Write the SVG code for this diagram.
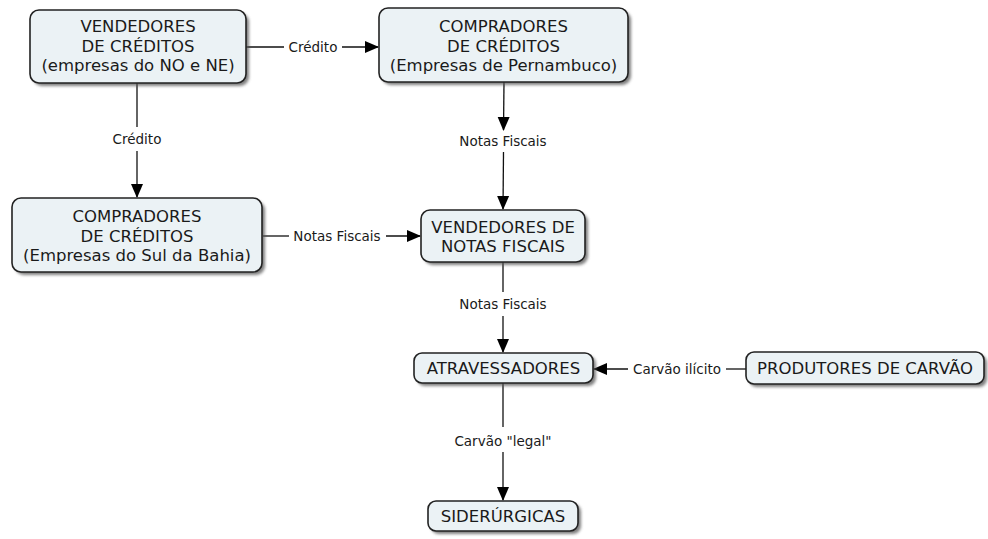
<svg xmlns="http://www.w3.org/2000/svg" width="988" height="539" viewBox="0 0 988 539">
<style>
.box{fill:#ebf2f5;stroke:#222;stroke-width:1.6}
.sh{fill:#555;opacity:0.75;filter:url(#blur)}
.nt{font-family:"DejaVu Sans",Verdana,sans-serif;font-size:16.5px;fill:#1a1a1a;text-anchor:middle}
.lt{font-family:"DejaVu Sans",Verdana,sans-serif;font-size:13.5px;fill:#1a1a1a;text-anchor:middle}
.ln{stroke:#111;stroke-width:1.3;fill:none}
.ar{stroke:#111;stroke-width:1.3;fill:none;marker-end:url(#ah)}
</style>
<defs>
<filter id="blur" x="-10%" y="-20%" width="120%" height="140%"><feGaussianBlur stdDeviation="1.5"/></filter>
<marker id="ah" markerUnits="userSpaceOnUse" markerWidth="14" markerHeight="14" viewBox="0 0 14 14" refX="13" refY="7" orient="auto"><path d="M0,1 L14,7 L0,13 Z" fill="#000"/></marker>
</defs>
<rect width="988" height="539" fill="#fff"/>
<g id="connectors">
<line class="ln" x1="246" y1="47" x2="284" y2="47"/>
<text class="lt" x="313" y="52">Crédito</text>
<line class="ar" x1="342" y1="47" x2="378" y2="47"/>
<line class="ln" x1="137" y1="83" x2="137" y2="127"/>
<text class="lt" x="137" y="144">Crédito</text>
<line class="ar" x1="137" y1="151" x2="137" y2="197"/>
<line class="ar" x1="504" y1="82" x2="503.5" y2="130"/>
<text class="lt" x="503" y="146">Notas Fiscais</text>
<line class="ar" x1="503.5" y1="152" x2="503" y2="209"/>
<line class="ln" x1="263" y1="236" x2="289" y2="236"/>
<text class="lt" x="337" y="241">Notas Fiscais</text>
<line class="ar" x1="386" y1="236" x2="420" y2="236"/>
<line class="ln" x1="503" y1="262" x2="503" y2="292"/>
<text class="lt" x="503" y="309">Notas Fiscais</text>
<line class="ar" x1="503" y1="316" x2="503" y2="352"/>
<line class="ln" x1="746" y1="369" x2="726" y2="369"/>
<text class="lt" x="677" y="374">Carvão ilícito</text>
<line class="ar" x1="628" y1="369" x2="594" y2="369"/>
<line class="ln" x1="503" y1="383" x2="503" y2="427"/>
<text class="lt" x="503" y="446">Carvão "legal"</text>
<line class="ar" x1="503" y1="452" x2="503" y2="500"/>
</g>
<g id="n1">
<rect class="sh" x="33" y="13" width="216" height="73" rx="9"/>
<rect class="box" x="30" y="10" width="216" height="73" rx="9"/>
<text class="nt" x="138" y="32">VENDEDORES</text>
<text class="nt" x="138" y="52">DE CRÉDITOS</text>
<text class="nt" x="138" y="71">(empresas do NO e NE)</text>
</g>
<g id="n2">
<rect class="sh" x="382" y="11" width="249" height="74" rx="9"/>
<rect class="box" x="379" y="8" width="249" height="74" rx="9"/>
<text class="nt" x="503.5" y="32">COMPRADORES</text>
<text class="nt" x="503.5" y="52">DE CRÉDITOS</text>
<text class="nt" x="503.5" y="71">(Empresas de Pernambuco)</text>
</g>
<g id="n3">
<rect class="sh" x="15" y="201" width="250" height="74" rx="9"/>
<rect class="box" x="12" y="198" width="250" height="74" rx="9"/>
<text class="nt" x="137" y="222">COMPRADORES</text>
<text class="nt" x="137" y="242">DE CRÉDITOS</text>
<text class="nt" x="137" y="261">(Empresas do Sul da Bahia)</text>
</g>
<g id="n4">
<rect class="sh" x="424" y="213" width="164" height="52" rx="9"/>
<rect class="box" x="421" y="210" width="164" height="52" rx="9"/>
<text class="nt" x="503" y="233">VENDEDORES DE</text>
<text class="nt" x="503" y="252">NOTAS FISCAIS</text>
</g>
<g id="n5">
<rect class="sh" x="417" y="356" width="179" height="30" rx="8"/>
<rect class="box" x="414" y="353" width="179" height="30" rx="8"/>
<text class="nt" x="503.5" y="374">ATRAVESSADORES</text>
</g>
<g id="n6">
<rect class="sh" x="431" y="504" width="150" height="30" rx="8"/>
<rect class="box" x="428" y="501" width="150" height="30" rx="8"/>
<text class="nt" x="503" y="522">SIDERÚRGICAS</text>
</g>
<g id="n7">
<rect class="sh" x="749" y="355" width="238" height="32" rx="8"/>
<rect class="box" x="746" y="352" width="238" height="32" rx="8"/>
<text class="nt" x="865" y="374">PRODUTORES DE CARVÃO</text>
</g>
</svg>
